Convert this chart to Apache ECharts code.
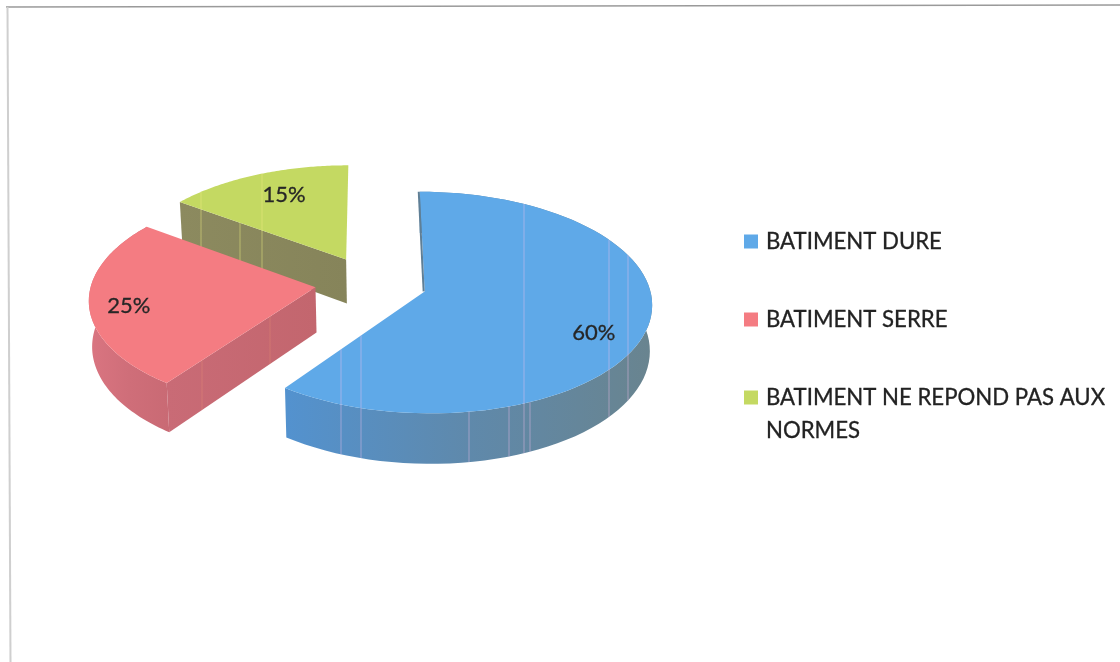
<!DOCTYPE html>
<html>
<head>
<meta charset="utf-8">
<style>html,body{margin:0;padding:0;background:#fff}#main{width:1120px;height:662px}</style>
<script src="https://cdn.jsdelivr.net/npm/echarts@6/dist/echarts.min.js"></script>
</head>
<body>
<div id="main"></div>
<script>
// Building categories and their shares
const categories = ['BATIMENT DURE', 'BATIMENT SERRE', 'BATIMENT NE REPOND PAS AUX\nNORMES'];
const shares = [60, 25, 15];

// Slice colours: top face, outer wall gradient, cut face gradient
const topColors = ['#5fa9e8', '#f47c82', '#c4d962'];
const wallColors = [['#5392cf', '#5f89ab', '#69848f'], ['#da7581', '#cf6e79', '#c96a74'], ['#8a8a60', '#8f8c5c', '#85835a']];
const cutColors = [null, ['#c96b76', '#c3666e'], ['#8c8a5f', '#86845a']];

// Projection of the tilted, exploded pie
const CX = 371, CY = 283, RX = 224, RY = 108, DEPTH = 45, PERSPECTIVE = 0.1, EXPLODE = 0.25;
const VANISH_X = 420, NARROWING = 0.01;
// Label placement: degrees from the slice's middle, fraction of the radius
const labelAnchors = [[9, 0.8], [-3, 0.83], [2, 0.73]];
// Pale print streaks, as screen x positions: across the whole slice, or on its walls alone
const streaks = [[341, 361, 524, 609, 628], [], [201, 262]];
const wallStreaks = [[469, 509, 530], [202, 270], [240]];
const streakColors = ['rgba(240,190,235,0.45)', 'rgba(255,175,120,0.22)', 'rgba(235,235,130,0.5)'];

const total = shares.reduce((a, b) => a + b, 0);
const startAngles = shares.map((_, i) => shares.slice(0, i).reduce((a, b) => a + b, 0) / total * 360);

function project(X, Y, Z) {
  const s = 1 / (1 + PERSPECTIVE * Y);
  const x = CX + X * RX * s;
  return [x + Z * (VANISH_X - x) * NARROWING, CY - Y * RY * s + Z * DEPTH * s];
}
function polar(deg, r, ox, oy, z) {
  const a = deg * Math.PI / 180;
  return project(ox + r * Math.sin(a), oy + r * Math.cos(a), z);
}
// Lowest and highest y of a set of closed outlines at a given x
function spanAt(x, outlines) {
  let lo = Infinity, hi = -Infinity;
  outlines.forEach(pts => pts.forEach((p, i) => {
    const q = pts[(i + 1) % pts.length];
    if ((p[0] - x) * (q[0] - x) <= 0 && p[0] !== q[0]) {
      const y = p[1] + (q[1] - p[1]) * (x - p[0]) / (q[0] - p[0]);
      lo = Math.min(lo, y); hi = Math.max(hi, y);
    }
  }));
  return [lo, hi];
}
function hGrad(c) {
  return new echarts.graphic.LinearGradient(0, 0, 1, 0, c.map((color, i) => ({ offset: i / (c.length - 1), color })));
}

function sliceRenderer(index) {
  return function (params, api) {
    const value = api.value(0);
    const start = startAngles[index];
    const sweep = value / total * 360;
    const mid = start + sweep / 2;
    const ox = EXPLODE * Math.sin(mid * Math.PI / 180);
    const oy = EXPLODE * Math.cos(mid * Math.PI / 180);
    const arc = z => {
      const pts = [];
      for (let k = 0; k <= 80; k++) pts.push(polar(start + sweep * k / 80, 1, ox, oy, z));
      return pts;
    };
    const apex = z => project(ox, oy, z);
    const topFace = [apex(0)].concat(arc(0));
    const wall = arc(0).concat(arc(1).reverse());
    const startCut = [apex(0), arc(0)[0], arc(1)[0], apex(1)];
    const children = [];
    const outlines = [topFace];
    // The far slice turns its rim away from the viewer
    if (index < 2) {
      children.push({ type: 'polygon', shape: { points: wall }, style: { fill: hGrad(wallColors[index]) } });
      outlines.push(wall);
    }
    // The cut face turned toward the viewer on the two left-hand slices
    if (index > 0) {
      children.push({ type: 'polygon', shape: { points: startCut }, style: { fill: hGrad(cutColors[index]) } });
      outlines.push(startCut);
    }
    children.push({ type: 'polygon', shape: { points: topFace }, style: { fill: topColors[index] } });
    if (index === 0) {
      const a = apex(0), b = arc(0)[0];
      children.push({ type: 'line', shape: { x1: a[0] - 1, y1: a[1], x2: b[0] - 1, y2: b[1] }, style: { stroke: '#5f7f96', lineWidth: 2 } });
    }
    const addStreak = (x, y1, y2) => {
      if (y2 > y1) children.push({ type: 'line', shape: { x1: x, y1, x2: x, y2 }, style: { stroke: streakColors[index], lineWidth: 1 } });
    };
    streaks[index].forEach(x => {
      const [lo, hi] = spanAt(x, outlines);
      addStreak(x, lo, hi);
    });
    wallStreaks[index].forEach(x => {
      const faceBottom = spanAt(x, [topFace])[1];
      addStreak(x, faceBottom, spanAt(x, outlines)[1]);
    });
    const [dAngle, r] = labelAnchors[index];
    const lp = polar(mid + dAngle, r, ox, oy, 0);
    children.push({
      type: 'text', x: lp[0], y: lp[1],
      style: { text: value + '%', fill: '#262626', font: '22px Lato', align: 'center', verticalAlign: 'middle', stroke: '#262626', lineWidth: 0.3 }
    });
    return { type: 'group', children };
  };
}

const legendTops = [220, 298, 343];
const option = {
  animation: false,
  backgroundColor: '#fff',
  legend: categories.map((name, i) => ({
    data: [name],
    orient: 'vertical',
    left: 739,
    top: legendTops[i],
    icon: 'rect',
    itemWidth: 14,
    itemHeight: 14,
    itemGap: 0,
    selectedMode: false,
    // Two-line names keep the swatch level with their first line
    formatter: n => (n.includes('\n') ? '\n' + n : n),
    textStyle: { fontFamily: 'Lato', fontSize: 22.2, lineHeight: 33, color: '#222', textBorderColor: '#222', textBorderWidth: 0.3, padding: [0, 0, 0, 3] }
  })),
  series: categories.map((name, i) => ({
    type: 'custom',
    name,
    coordinateSystem: 'none',
    z: i === 0 ? 4 : i === 1 ? 3 : 2,
    itemStyle: { color: topColors[i] },
    silent: true,
    data: [[shares[i]]],
    renderItem: sliceRenderer(i)
  })),
  graphic: [
    { type: 'line', shape: { x1: 6, y1: 7, x2: 1120, y2: 5 }, style: { stroke: '#9a9a9a', lineWidth: 1.5 } },
    { type: 'line', shape: { x1: 7.5, y1: 7, x2: 10.5, y2: 662 }, style: { stroke: '#cfcfcf', lineWidth: 2 } }
  ]
};
echarts.init(document.getElementById('main'), null, { renderer: 'canvas' }).setOption(option);
</script>
</body>
</html>
